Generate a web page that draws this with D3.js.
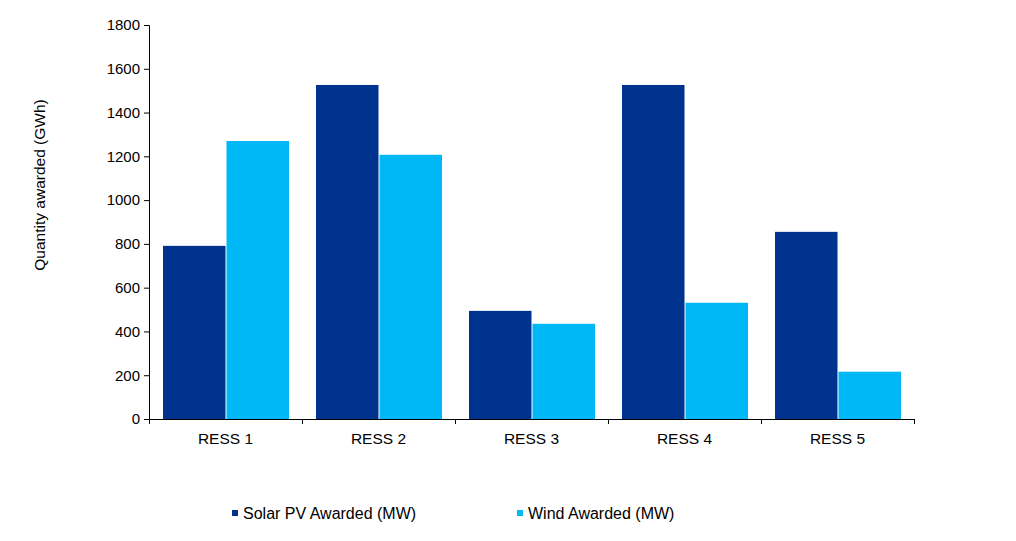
<!DOCTYPE html>
<html>
<head>
<meta charset="utf-8">
<script src="https://cdn.jsdelivr.net/npm/d3@7"></script>
<style>
	body { margin: 0; background: #fff; }
	text { font-family: "Liberation Sans", Arial, sans-serif; fill: #000; }
</style>
</head>
<body>
<div id="chart-area"></div>
<script>
var categories = ['RESS 1', 'RESS 2', 'RESS 3', 'RESS 4', 'RESS 5'];
var seriesNames = ['Solar PV Awarded (MW)', 'Wind Awarded (MW)'];
var solarValues = [791, 1526, 494, 1526, 855];
var windValues = [1270, 1207, 435, 531, 216];
var yTicks = [0, 200, 400, 600, 800, 1000, 1200, 1400, 1600, 1800];

var colors = ['#00338D', '#00B8F5'];
var margin = { left: 149, right: 102, top: 25, bottom: 122 };
var width = 1016 - margin.left - margin.right;
var height = 541 - margin.top - margin.bottom;

var svg = d3.select('#chart-area')
	.append('svg')
	.attr('width', 1016)
	.attr('height', 541);

var g = svg.append('g')
	.attr('transform', `translate(${margin.left}, ${margin.top})`);

var x = d3.scaleBand()
	.domain(categories)
	.range([0, width]);
var x1 = d3.scaleBand()
	.domain(seriesNames)
	.range([14, x.bandwidth() - 13]);
var y = d3.scaleLinear()
	.domain([0, 1800])
	.range([height, 0]);

var series = [solarValues, windValues];
series.forEach((vals, si) => {
	g.selectAll('.bar-' + si)
		.data(vals)
		.enter().append('rect')
		.attr('class', 'bar-' + si)
		.attr('x', (d, i) => x(categories[i]) + x1(seriesNames[si]) + (si == 1 ? 0.5 : 0))
		.attr('width', x1.bandwidth() - 0.5)
		.attr('y', d => y(d))
		.attr('height', d => height - y(d))
		.attr('fill', colors[si]);
});

var yAxis = g.append('g')
	.attr('font-size', null)
	.call(d3.axisLeft(y).tickValues(yTicks).tickFormat(d3.format('d')).tickSize(5).tickPadding(4));
yAxis.selectAll('text').style('font-size', '15px');
yAxis.select('.domain').attr('d', `M-5,${height + 0.5}H0.5V0.5H-5`);

// x axis with ticks at band boundaries
var xg = g.append('g').attr('transform', `translate(0, ${height})`);
xg.append('line')
	.attr('x1', 0).attr('x2', width + 0.5)
	.attr('y1', 0.5).attr('y2', 0.5)
	.attr('stroke', '#000');
var bounds = categories.map(c => x(c)).concat([width]);
xg.selectAll('.xtick')
	.data(bounds)
	.enter().append('line')
	.attr('x1', d => Math.round(d) + 0.5).attr('x2', d => Math.round(d) + 0.5)
	.attr('y1', 0).attr('y2', 5)
	.attr('stroke', '#000');
xg.selectAll('.xlabel')
	.data(categories)
	.enter().append('text')
	.attr('x', d => x(d) + x.bandwidth() / 2)
	.attr('y', 25)
	.attr('text-anchor', 'middle')
	.style('font-size', '15.5px')
	.text(d => d);

svg.append('text')
	.attr('transform', 'rotate(-90)')
	.attr('x', -185)
	.attr('y', 45)
	.attr('text-anchor', 'middle')
	.style('font-size', '15.5px')
	.text('Quantity awarded (GWh)');

var legendX = [232, 517];
seriesNames.forEach((s, i) => {
	var row = svg.append('g').attr('transform', `translate(${legendX[i]}, 510)`);
	row.append('rect')
		.attr('width', 6).attr('height', 6)
		.attr('fill', colors[i]);
	row.append('text')
		.attr('x', 11)
		.attr('y', 9)
		.style('font-size', '16px')
		.text(s);
});
</script>
</body>
</html>
